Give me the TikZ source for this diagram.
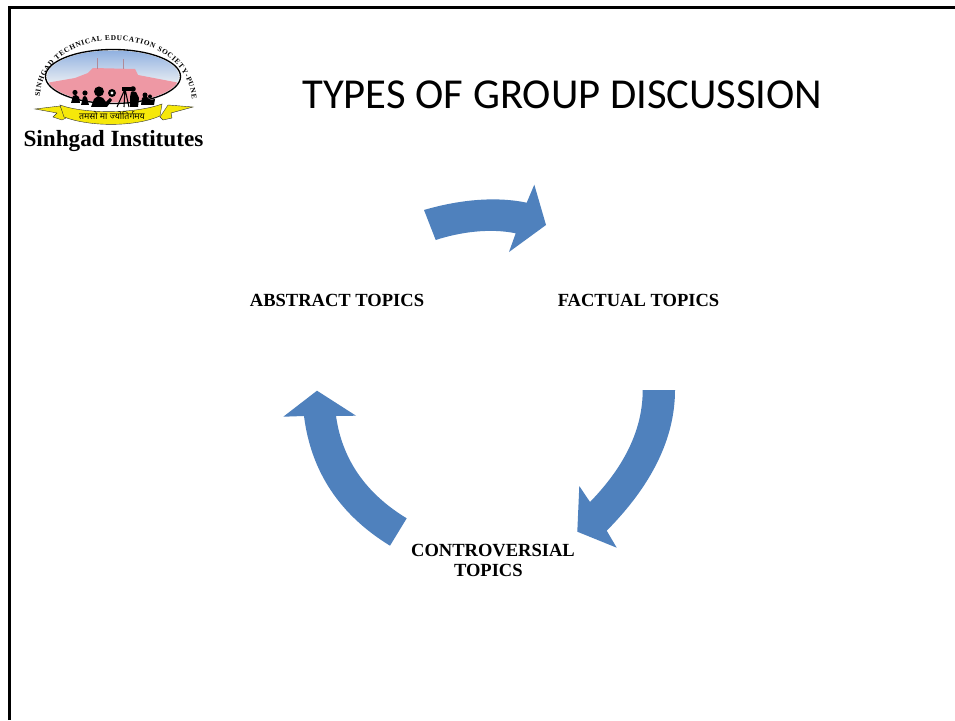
\documentclass[tikz,border=0pt]{standalone}
\usepackage{fontspec}
\setmainfont{Liberation Serif}
\newfontfamily\titlefont{Carlito}
\newfontfamily\devfont[Script=Devanagari]{Noto Sans}
\usetikzlibrary{decorations.text}
\definecolor{arrowblue}{HTML}{4F81BD}
\definecolor{skyblue}{HTML}{8FB0E0}
\definecolor{skylight}{HTML}{E4EAF2}
\definecolor{hillpink}{HTML}{EE98A4}
\definecolor{bannery}{HTML}{F6E80A}
\definecolor{mastc}{HTML}{B08A98}
\tikzset{
  x=0.75pt,y=-0.75pt,
  cyclearrow/.style={fill=arrowblue,draw=none},
  topic/.style={font=\bfseries\fontsize{13.9}{15.6}\selectfont,align=center,inner sep=0pt,text=black},
  frameline/.style={draw=black,line width=2.2pt},
  silh/.style={fill=black,draw=none},
  mast/.style={draw=mastc,line width=.6pt},
  ribbon/.style={fill=bannery,draw=black!80,line width=.3pt}
}
\begin{document}
\begin{tikzpicture}
\useasboundingbox (0,0) rectangle (955,720);
\fill[white] (0,0) rectangle (955,720);
% frame
\coordinate (fa) at (9.3,720);
\coordinate (fb) at (9.3,7.5);
\coordinate (fc) at (955,7.5);
\draw[frameline] (fa) -- (fb) -- (fc);
% logo
\begin{scope}
\clip (113,76.5) ellipse [x radius=66,y radius=26];
\shade[top color=skyblue,bottom color=skylight] (46,50) rectangle (180,82);
\fill[hillpink] (46,83) -- (75,78) -- (88,73) -- (93,68) -- (135,69) -- (138,75) -- (180,83) -- (180,104) -- (46,104) -- cycle;
\end{scope}
\draw[mast] (97,69) -- (97,58);
\draw[mast] (123,69) -- (123,59);
\draw[black,line width=1pt] (113,76.5) ellipse [x radius=67.5,y radius=27];
% silhouettes
\fill[silh] (71,103) -- (73,96) -- (76,95) -- (79,97) -- (80,103) -- cycle;
\fill[silh] (75,92.5) circle (2.6);
\fill[silh] (81,105) -- (83,97) -- (85,96) -- (87,98) -- (89,105) -- cycle;
\fill[silh] (85,93) circle (2.6);
\fill[silh] (91,107) -- (94,99) -- (98,96) -- (103,98) -- (106,102) -- (110,98) -- (112,100) -- (107,107) -- cycle;
\fill[silh] (99,91.5) circle (5);
\fill[silh] (112,93) circle (4);
\fill[white] (112,93) circle (1.6);
\draw[black,line width=.8pt] (125,89) -- (117,107) (125,89) -- (129,107) (125,89) -- (124,107);
\fill[silh] (122,87.5) rectangle (131,91);
\fill[silh] (130,107) -- (130,97) -- (131,92) -- (136,92) -- (139,98) -- (138,107) -- cycle;
\fill[silh] (133,89) circle (2.8);
\fill[silh] (141,105) -- (142,98) -- (146,96) -- (150,100) -- (155,99) -- (154,105) -- cycle;
\fill[silh] (145,95) circle (2.5);
\fill[silh] (150,96.5) circle (2);
% ring text
\path[decorate,decoration={text along path,text align={fit to path},
   text={|\fontsize{5.5}{7}\selectfont\bfseries|SINHGAD TECHNICAL EDUCATION SOCIETY-PUNE}}]
   (40,97) .. controls (44,21) and (184,21) .. (192,99);
% banner
\fill[ribbon] (35,109) -- (60,106) -- (66,118) -- (62,120) -- (53,117) -- (57,113) -- cycle;
\fill[ribbon] (193,107) -- (168,105) -- (160,117) -- (163,120) -- (172,118) -- (171,113) -- cycle;
\fill[ribbon] (60,105) .. controls (85,114) and (135,114) .. (162,104) -- (160,116) .. controls (135,127) and (90,127) .. (64,117) -- cycle;
\node[inner sep=0pt,font=\devfont\fontsize{6.6}{7}\selectfont] (motto) at (112,115.5) {तमसो मा ज्योतिर्गमय};
\node[inner sep=0pt,font=\bfseries\fontsize{17.4}{19}\selectfont] (logotext) at (113.5,141) {Sinhgad Institutes};
% title
\node[inner sep=0pt,font=\titlefont\fontsize{32}{36}\selectfont] (title) at (562.5,95) {TYPES OF GROUP DISCUSSION};
% topics
\node[topic] (abstract) at (337,300.5) {ABSTRACT TOPICS};
\node[topic] (factual) at (638.5,300.5) {FACTUAL TOPICS};
\node[topic] (controversial) at (493,560.5) {CONTROVERSIAL\\TOPICS\hspace*{7pt}};
% cycle arrows
\fill[cyclearrow] (424,210) .. controls (458,200) and (495,196) .. (526.7,202.7)
  -- (534.3,184.7) -- (546,225) -- (509,252) -- (515.7,233.3)
  .. controls (490,228) and (460,232) .. (435.7,240) -- cycle;
\fill[cyclearrow] (675,390) .. controls (675,438) and (652,485) .. (606.7,530.7)
  -- (616.7,547.7) -- (577.3,531.7) -- (579.3,486) -- (590,502)
  .. controls (625,466) and (642.7,429) .. (642.7,390) -- cycle;
\fill[cyclearrow] (390,545.7) .. controls (340,515) and (311,472) .. (304,416)
  -- (283.3,416.7) -- (317,390.7) -- (356,415.7) -- (336,416)
  .. controls (342,459) and (365.6,493.4) .. (406.7,518.3) -- cycle;
\end{tikzpicture}
\end{document}
